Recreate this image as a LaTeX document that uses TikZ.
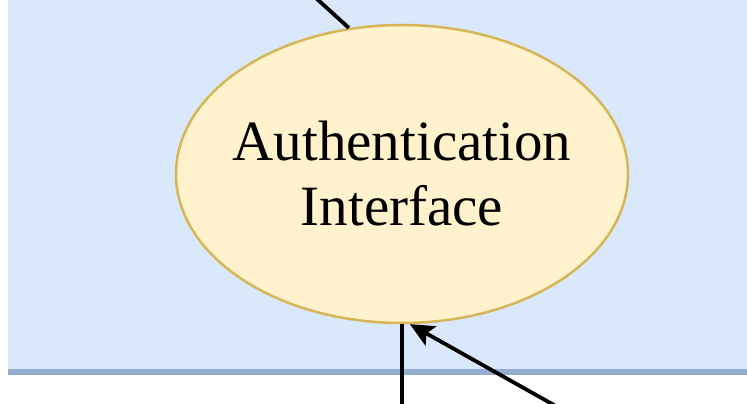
\documentclass[tikz,border=0pt]{standalone}
\usepackage{fontspec}
\setmainfont{Liberation Serif}
\usetikzlibrary{arrows.meta,positioning,shapes.geometric}
\definecolor{authInk}{HTML}{000000}
\definecolor{authPale}{HTML}{DAE8FC}
\definecolor{authEdge}{HTML}{94ADD0}
\definecolor{authFill}{HTML}{FFF2CC}
\definecolor{authGold}{HTML}{D6B656}
\tikzset{
  every picture/.style={font=\fontsize{57}{65}\selectfont, text=authInk},
  auth ellipse/.style={ellipse, draw=authGold, fill=authFill, line width=2.5pt,
    minimum width=452pt, minimum height=298pt, inner sep=0pt},
  auth link/.style={draw=authInk, line width=3.8pt},
  auth arrow/.style={-{Stealth[length=24pt,width=22pt,inset=5pt]},
    draw=authInk, line width=3.8pt}
}
\begin{document}
\begin{tikzpicture}[x=1pt,y=1pt]
  \useasboundingbox (0,0) rectangle (747,404);
  \fill[authPale] (8,33) rectangle (760,420);
  \draw[authEdge, line width=6pt] (8,32) -- (760,32);
  \node[auth ellipse] (auth) at (402,230) {};
  \node[align=center] (authText) at (auth) {Authentication\\Interface};
  \coordinate (upEnd) at (295,425);
  \coordinate (downEnd) at (402,-10);
  \coordinate (sideEnd) at (570,-10);
  \draw[auth link] (auth.south) -- (downEnd);
  \draw[auth link] (auth.110) -- (upEnd);
  \draw[auth arrow] (sideEnd) -- (auth.-87);
\end{tikzpicture}
\end{document}
